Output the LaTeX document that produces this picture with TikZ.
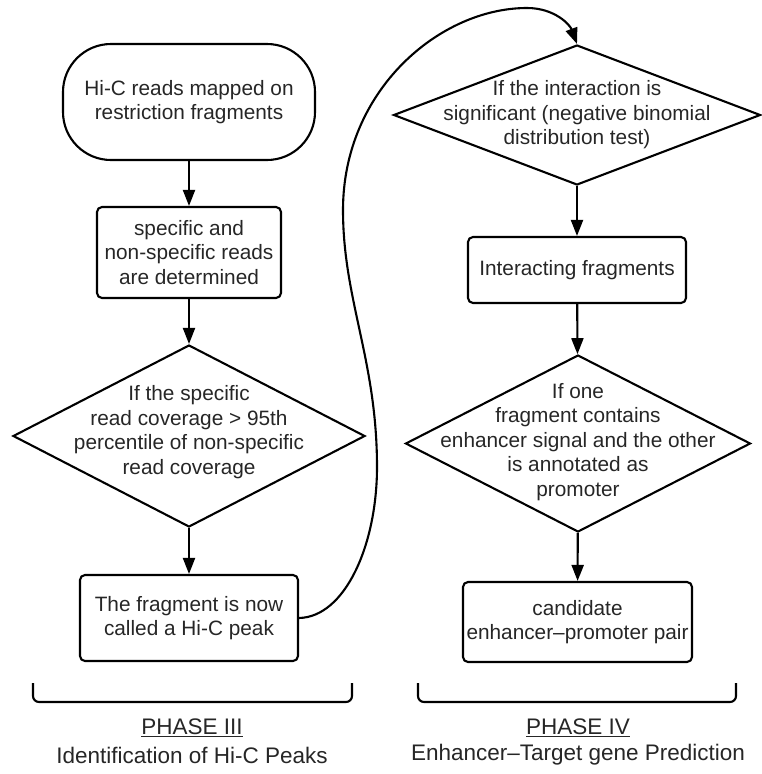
\documentclass[tikz,border=0pt]{standalone}
\usepackage{fontspec}
\setmainfont{Liberation Sans}
\usetikzlibrary{shapes.geometric,arrows.meta}
\begin{document}
\begin{tikzpicture}[x=1pt,y=-1pt,line width=2.1pt,
  txt/.style={font=\fontsize{20.8}{24.5}\selectfont,text=black!85,align=center},
  lab/.style={font=\fontsize{22.5}{26}\selectfont,text=black!85,align=center},
  procbox/.style={draw,rounded corners=5pt,txt,inner sep=0pt},
  decision/.style={draw,diamond,inner sep=0pt},
  arr/.style={-{Triangle[length=16pt,width=12pt]}},
  bracket/.style={rounded corners=6pt}]
\useasboundingbox (0,0) rectangle (762,774);
% left column
\node[procbox,rounded corners=48pt,minimum width=252pt,minimum height=116pt] (start) at (189,102) {Hi-C reads mapped on\\restriction fragments};
\node[procbox,minimum width=184pt,minimum height=91pt] (det) at (189,252.5) {specific and\\non-specific reads\\are determined};
\node[decision,minimum width=352pt,minimum height=182pt] (cov) at (189,436) {};
\node[txt] (covt) at (189,432) {If the specific\\read coverage > 95th\\percentile of non-specific\\read coverage};
\node[procbox,minimum width=218pt,minimum height=86pt] (frag) at (189,618) {The fragment is now\\called a Hi-C peak};
% right column
\node[decision,minimum width=367pt,minimum height=140pt] (sig) at (577,115) {};
\node[txt] (sigt) at (577,115) {If the interaction is\\significant (negative binomial\\distribution test)};
\node[procbox,minimum width=218pt,minimum height=66pt] (inter) at (577,270) {Interacting fragments};
\node[decision,minimum width=345pt,minimum height=177pt] (enh) at (578,443.5) {};
\node[txt] (enht) at (578,442) {If one\\fragment contains\\enhancer signal and the other\\is annotated as\\promoter};
\node[procbox,minimum width=229pt,minimum height=80pt] (cand) at (577.5,622) {candidate\\enhancer--promoter pair};
% arrows
\draw[arr] (start) -- (det);
\draw[arr] (det) -- (cov);
\draw[arr] (cov) -- (frag);
\draw[arr] (sig) -- (inter);
\draw[arr] (inter) -- (enh);
\draw[arr] (enh) -- (cand);
% long connector
\coordinate (c1) at (377,467);
\coordinate (c2) at (343,210);
\coordinate (c3) at (527,8);
\draw[arr] (frag.east) .. controls (345,617) and (377,545) .. (c1)
  .. controls (377,360) and (343,300) .. (c2)
  .. controls (343,90) and (440,8) .. (c3)
  .. controls (555,8) and (570,25) .. (sig.north);
% brackets
\draw[bracket] (33,683) -- (33,702) -- (352,702) -- (352,683);
\draw[bracket] (418,683) -- (418,702) -- (736,702) -- (736,683);
% phase labels
\node[lab] (p3) at (192,728) {\underline{PHASE III}};
\node[lab] (p3b) at (192,755) {Identification of Hi-C Peaks};
\node[lab] (p4) at (578,728) {\underline{PHASE IV}};
\node[lab] (p4b) at (578,755) {Enhancer--Target gene Prediction};
\end{tikzpicture}
\end{document}
